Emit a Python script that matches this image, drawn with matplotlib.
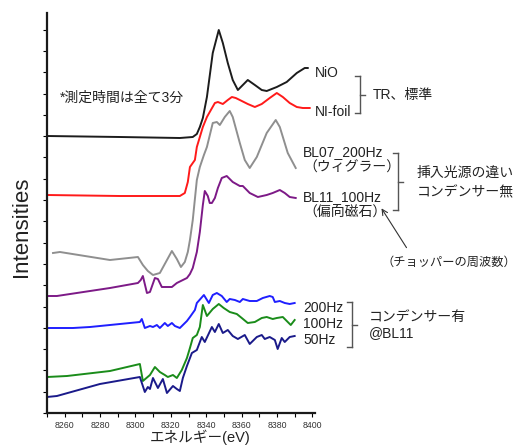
import numpy as np
import matplotlib
matplotlib.use("Agg")
import matplotlib.pyplot as plt
from matplotlib.lines import Line2D

plt.rcParams['font.family'] = ['Liberation Sans', 'Noto Sans CJK JP', 'DejaVu Sans']

# Ni K-edge XANES spectra, offset vertically (arbitrary units)
nio_e = [8250, 8291.2, 8325.1, 8332.4, 8334.7, 8336.4, 8338.1, 8340.4, 8343.7, 8347.1,
         8349.4, 8352.2, 8355.0, 8357.9, 8360.7, 8363.5, 8367.5, 8371.4, 8374.2, 8379.9,
         8385.5, 8391.2, 8395.7, 8397.4]
nio_i = [277, 276, 275, 276, 279, 286, 295, 316, 360, 383,
         370, 350, 333, 323, 328, 333, 328, 323, 322, 326,
         331, 340, 345, 345]

foil_e = [8250, 8291.2, 8325.1, 8327.9, 8329.6, 8330.8, 8333.6, 8334.7, 8338.1, 8340.4,
          8342.0, 8344.9, 8346.6, 8349.4, 8352.2, 8354.5, 8356.7, 8359.0, 8363.5, 8367.5,
          8371.4, 8375.9, 8379.9, 8383.3, 8387.2, 8391.2, 8394.6, 8398.5]
foil_i = [218, 217, 217, 220, 231, 246, 253, 266, 286, 296,
          301, 310, 311, 309, 313, 316, 315, 313, 309, 306,
          309, 315, 320, 316, 310, 306, 305, 305]

bl07_e = [8253.4, 8257.3, 8285.6, 8301.4, 8304.2, 8307.0, 8309.9, 8313.8, 8317.2, 8320.6,
          8323.4, 8325.7, 8327.9, 8329.6, 8330.8, 8332.4, 8334.7, 8336.4, 8338.7, 8340.4,
          8343.7, 8346.0, 8347.7, 8350.5, 8353.3, 8355.0, 8359.0, 8361.8, 8364.6, 8368.6,
          8374.2, 8379.3, 8381.6, 8386.1, 8390.6]
bl07_i = [160, 161, 153, 156, 148, 142, 138, 140, 151, 162,
          154, 146, 151, 161, 173, 193, 233, 246, 258, 266,
          290, 291, 288, 296, 302, 296, 270, 253, 245, 256,
          280, 293, 286, 260, 245]

bl11_e = [8250, 8255.6, 8285.6, 8301.4, 8303.0, 8304.2, 8306.5, 8308.2, 8311.0, 8312.7,
          8314.9, 8320.6, 8323.4, 8329.1, 8330.8, 8332.4, 8334.7, 8336.4, 8338.1, 8339.2,
          8340.9, 8342.0, 8343.2, 8344.9, 8346.6, 8348.8, 8351.6, 8355.0, 8359.0, 8360.7,
          8364.6, 8369.2, 8374.2, 8377.6, 8381.6, 8384.4, 8387.2, 8390.6]
bl11_i = [117, 117, 125, 130, 133, 137, 120, 121, 135, 134,
          126, 126, 130, 135, 139, 145, 161, 181, 208, 222,
          217, 210, 210, 215, 225, 235, 237, 231, 227, 227,
          220, 216, 218, 220, 223, 220, 216, 215]

hz200_e = [8250, 8264.7, 8274.3, 8302.5, 8303.6, 8305.3, 8308.2, 8309.9, 8312.1, 8313.8,
           8316.6, 8318.3, 8320.6, 8322.3, 8325.1, 8329.1, 8330.8, 8333.6, 8334.7, 8338.7,
           8341.5, 8343.7, 8346.0, 8348.8, 8351.6, 8353.3, 8356.2, 8359.0, 8360.7, 8364.6,
           8368.6, 8372.0, 8375.9, 8377.6, 8378.8, 8381.6, 8384.4, 8387.2, 8390.0]
hz200_i = [85, 85, 86, 91, 94, 85, 87, 86, 88, 85,
           90, 87, 90, 87, 85, 92, 96, 103, 110, 118,
           110, 118, 120, 117, 111, 114, 113, 111, 114, 112,
           112, 115, 117, 116, 111, 112, 110, 109, 110]

hz100_e = [8250, 8261.3, 8285.6, 8302.5, 8304.2, 8308.2, 8311.0, 8313.8, 8316.6, 8318.3,
           8321.2, 8323.4, 8326.2, 8329.1, 8330.8, 8332.4, 8334.7, 8336.4, 8338.1, 8340.4,
           8343.7, 8347.1, 8349.9, 8353.3, 8357.3, 8360.1, 8363.5, 8367.5, 8371.4, 8374.2,
           8377.6, 8379.9, 8383.3, 8386.1, 8387.8, 8390.0]
hz100_i = [36, 37, 42, 49, 32, 38, 46, 41, 38, 36,
           38, 35, 43, 55, 65, 75, 78, 86, 108, 97,
           104, 109, 105, 101, 99, 95, 90, 91, 95, 96,
           94, 95, 96, 91, 88, 93]

hz50_e = [8250, 8255.6, 8279.9, 8302.5, 8305.3, 8307.0, 8308.2, 8309.9, 8312.7, 8315.5,
          8317.8, 8321.2, 8323.4, 8325.1, 8326.8, 8329.1, 8331.9, 8334.7, 8337.5, 8339.2,
          8343.2, 8344.9, 8347.1, 8349.4, 8352.2, 8355.0, 8357.9, 8361.8, 8364.6, 8368.6,
          8371.4, 8373.1, 8375.9, 8378.8, 8380.4, 8382.7, 8384.4, 8387.2, 8390.0]
hz50_i = [16, 17, 29, 36, 21, 26, 24, 35, 25, 34,
          20, 27, 24, 22, 35, 47, 60, 63, 76, 71,
          86, 81, 89, 80, 83, 77, 74, 78, 69, 76,
          78, 74, 76, 73, 64, 75, 71, 76, 77]

series = [
    (nio_e, nio_i, "#1c1c1c"),
    (foil_e, foil_i, "#ff1a1a"),
    (bl07_e, bl07_i, "#8f8f8f"),
    (bl11_e, bl11_i, "#7d1a87"),
    (hz200_e, hz200_i, "#1f1fff"),
    (hz100_e, hz100_i, "#1a8c1a"),
    (hz50_e, hz50_i, "#1a1a8a"),
]

W, H = 520, 446
fig = plt.figure(figsize=(W / 100, H / 100), dpi=100)
ax = fig.add_axes([47 / W, (H - 413) / H, (315 - 47) / W, (413 - 13) / H])

for e, i, c in series:
    ax.plot(e, i, color=c, lw=1.4, solid_joinstyle="round")

ax.set_xlim(8250, 8401.5)
ax.set_ylim(0, 400)
ax.set_xticks(np.arange(8260, 8401, 20))
ax.set_xticks(np.arange(8250, 8400, 20), minor=True)
ax.set_yticks(np.arange(0, 401, 21.3))
ax.set_yticklabels([])
ax.tick_params(axis="x", which="both", direction="out", length=3, width=0.8,
               labelsize=6.3, labelcolor="#333333", pad=3)
ax.tick_params(axis="y", which="both", direction="out", length=3, width=0.8)
for side in ("top", "right"):
    ax.spines[side].set_visible(False)
for side in ("left", "bottom"):
    ax.spines[side].set_linewidth(1.6)
    ax.spines[side].set_color("#1a1a1a")

ax.set_xlabel("エネルギー(eV)", fontsize=10.5, color="#222222", va="center")
ax.xaxis.set_label_coords(0.57, -24 / 400)
ax.set_ylabel("Intensities", fontsize=16, color="#222222", va="center")
ax.yaxis.set_label_coords(-25 / 268, (413 - 227) / 400)


def fx(x, y):
    return x / W, 1 - y / H


def note(x, y, s, size=10):
    fig.text(*fx(x, y), s, fontsize=size, color="#222222", ha="left", va="center")


def bracket(x, y0, y1, hook=5, tick=5):
    ym = (y0 + y1) / 2
    pts = [((x - hook, y0), (x, y0)), ((x, y0), (x, y1)),
           ((x - hook, y1), (x, y1)), ((x, ym), (x + tick, ym))]
    for (xa, ya), (xb, yb) in pts:
        p0, p1 = fx(xa, ya), fx(xb, yb)
        fig.add_artist(Line2D([p0[0], p1[0]], [p0[1], p1[1]], color="#555555", lw=1.0))


note(60, 98, "*測定時間は全て3分")
note(315, 73, "NiO")
note(315, 112, "NI-foil")
bracket(360, 76, 113)
note(373, 95, "TR、標準")

note(303, 152, "BL07_200Hz")
note(303, 168, "（ウィグラー）")
note(303, 197, "BL11_100Hz")
note(303, 213, "（偏向磁石）")
bracket(398, 153, 210)
note(417, 173, "挿入光源の違い")
note(417, 192, "コンデンサー無")

note(382, 263, "（チョッパーの周波数）", size=8.8)
fig.add_artist(plt.Annotation("", xy=fx(380, 206), xytext=fx(408, 250),
                              xycoords="figure fraction", textcoords="figure fraction",
                              arrowprops=dict(arrowstyle="->", color="#333333", lw=0.8)))

note(303, 308, "200Hz")
note(303, 324, "100Hz")
note(303, 340, "50Hz")
bracket(352, 302, 347)
note(369, 317, "コンデンサー有")
note(369, 333, "@BL11")

fig.savefig("out.png", dpi=100)
